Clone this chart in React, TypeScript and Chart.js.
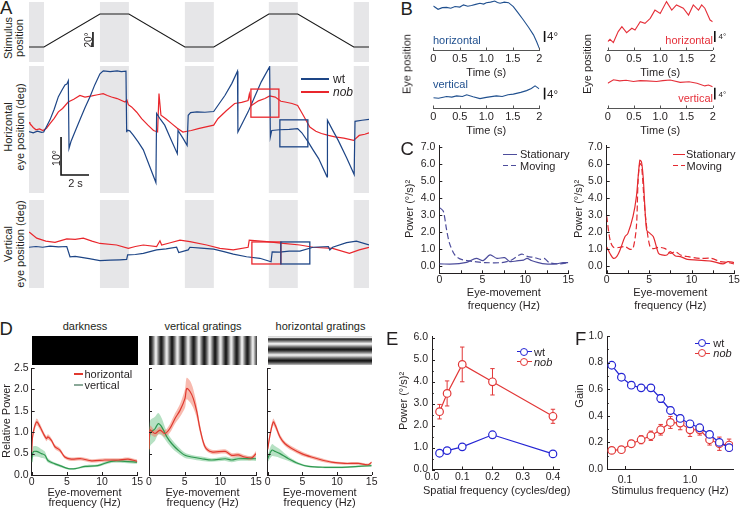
import React, { useEffect, useRef } from "react";
import { Chart, registerables } from "chart.js";

Chart.register(...registerables);

const FONT = 'Arial, "Liberation Sans", Helvetica, sans-serif';
const INK = "#231f20";

/* ================= Panel A data (time in s, position in deg) ================= */
const aTimeRange = [0, 24.3];
const aStimRange = [-20, 60];
const aHorRange = [-16.05, 17.37];
const aVerRange = [-11.32, 11.84];
const aStationaryWindows = [[0, 1.07], [5.07, 7.14], [11.14, 13.21], [17.14, 19.21], [23.21, 24.3]];
const aStimulus = [[0, 0], [1.07, 0], [5.07, 44], [7.14, 44], [11.14, 0], [13.21, 0], [17.14, 44], [19.21, 44], [23.21, 0], [24.3, 0]];
const aWtHorizontal = [
  [0, 0.1], [0.3, -0.2], [0.6, 0.2], [0.9, -0.1], [1.05, 0], [1.3, 1.8], [1.5, 3.2], [1.8, 6.0], [2.1, 9.3], [2.35, 11.0],
  [2.57, 12.4], [2.7, 12.6], [2.81, 13.5], [2.86, -4.3], [3.0, -2.5], [3.3, 0.2], [3.64, 3.2], [4.0, 6.4], [4.36, 9.3],
  [4.7, 12.4], [5.07, 15.3], [5.31, 16.1], [5.8, 15.9], [6.3, 16.1], [6.6, 15.9], [6.93, 16.0], [6.98, 0.1], [7.0, 0.5],
  [7.2, 0.3], [7.45, -0.8], [7.8, -2.6], [8.17, -4.7], [8.6, -8.8], [9.07, -13.3], [9.12, 4.9], [9.4, 3.3], [9.7, 1.8],
  [10.1, -1.6], [10.6, -5.7], [10.65, 0.4], [11.0, -1.6], [11.3, -3.5], [11.38, 4.4], [11.55, 5.1], [12.0, 5.3],
  [12.57, 5.2], [13.2, 5.4], [13.6, 7.5], [14.0, 9.6], [14.5, 12.8], [14.9, 16.0], [14.93, 0], [15.3, 2.7], [15.66, 5.3],
  [16.1, 9.0], [16.6, 13.2], [17.2, 17.2], [17.25, -1.3], [17.35, 0.4], [17.9, 0.6], [18.6, 0.7], [19.2, 0.9], [19.5, -0.2],
  [19.95, -2.6], [20.3, -4.7], [20.7, -7.0], [21.3, -11.8], [21.33, 3.1], [21.7, 0.5], [22.1, -2.2], [22.7, -6.8],
  [23.24, -11.2], [23.3, 2.8], [23.8, 3.1], [24.3, 3.3],
];
const aNobHorizontal = [
  [0, 2.6], [0.07, 2.2], [0.3, 1.2], [0.5, 0.6], [0.75, 0.8], [1.0, 0.4], [1.25, 1.0], [1.5, 2.2], [1.8, 3.6], [2.1, 5.3],
  [2.4, 6.2], [2.8, 7.9], [3.2, 8.6], [3.64, 9.6], [4.0, 9.2], [4.5, 9.5], [4.9, 9.8], [5.3, 10.1], [5.6, 9.6], [5.9, 9.2],
  [6.3, 8.8], [6.86, 7.9], [7.0, 8.4], [7.1, 7.2], [7.33, 6.6], [7.7, 5.2], [8.05, 3.5], [8.5, 1.8], [8.9, 0.4], [9.19, 0],
  [9.29, 10.1], [9.43, 4.4], [9.8, 3.4], [10.2, 2.2], [10.6, 1.0], [11.0, 0], [11.3, 0.2], [11.6, 0.4], [12.1, 0.9],
  [12.57, 1.3], [13.2, 1.8], [13.5, 3.5], [14.1, 5.6], [14.7, 7.5], [15.2, 7.8], [15.66, 8.3], [15.75, 10.0], [15.9, 7.0],
  [16.4, 8.2], [16.86, 8.8], [17.2, 9.5], [17.6, 9.2], [18.0, 8.1], [18.3, 7.9], [18.8, 7.5], [19.2, 7.0], [19.6, 4.4],
  [20.07, 1.3], [20.5, 0.2], [20.9, -0.4], [21.4, -0.9], [21.86, -1.3], [22.5, -1.6], [23.2, -2.2], [23.6, -0.9],
  [24.0, -0.6], [24.3, -0.2],
];
const aWtVertical = [
  [0, -0.6], [0.5, -0.4], [0.98, -0.6], [1.5, -0.3], [2.1, -0.5], [2.7, -0.4], [2.93, -3.1], [3.3, -3.0], [3.64, -3.2],
  [4.3, -3.6], [5.07, -4.1], [5.8, -4.0], [6.5, -3.9], [6.98, -3.8], [7.05, -2.6], [7.6, -2.5], [8.17, -2.2], [9.12, -1.3],
  [9.8, -1.0], [10.55, -0.6], [10.7, -2.0], [11.38, -1.3], [11.5, -0.6], [12.3, -0.8], [13.2, -1.1], [14.0, -1.8],
  [14.6, -2.4], [15.55, -3.1], [16.5, -3.5], [17.3, -4.4], [17.38, -1.8], [17.9, -1.9], [18.6, -1.6], [19.36, -1.6],
  [20.3, -0.6], [21.4, -0.4], [21.5, -1.3], [21.7, -0.6], [22.7, 0.6], [23.4, 1.0], [24.3, 0],
];
const aNobVertical = [
  [0, 3.4], [0.12, 3.1], [0.55, 1.8], [1.2, 1.0], [1.86, 0.7], [2.7, 1.6], [3.3, 1.5], [3.88, 1.8], [4.5, 1.0], [5.07, 0.4],
  [6.26, 0], [7.1, -0.9], [7.6, -0.4], [8.17, 0], [9.12, -0.4], [9.36, 1.1], [9.48, 0], [10.1, 0.6], [10.79, 1.3],
  [11.5, 0.9], [12.7, 0], [13.64, -0.9], [14.6, -1.3], [15.66, -0.6], [15.74, 1.3], [17.0, 0.9], [18.17, 0.4],
  [19.36, 0], [20.3, -0.6], [21.7, -0.9], [22.9, -2.2], [23.6, -1.3], [24.3, -0.6],
];
const aHorizontalBoxes = [[15.86, 17.86, 3.9, 11.3], [17.93, 19.93, -3.9, 3.2]];
const aVerticalBoxes = [[15.93, 18.0, -5, 0.8], [18.0, 20.07, -5, 0.8]];
const aStimScaleBar = [4.57, 0, 20];
const aEyeScaleBar = [2.29, -11.3, 10, 2];

/* ================= Panel B data ================= */
const bTimeTicks = [0, 0.5, 1, 1.5, 2];
const bTimeLabels = ["0", "0.5", "1.0", "1.5", "2"];
const bTopRange = [0, 18.18];
const bBottomRange = [0, 10.18];
const bWtHorizontal = [
  [0, 16], [0.09, 14.8], [0.17, 15.4], [0.25, 15.5], [0.33, 15.2], [0.41, 15.8], [0.5, 15.6], [0.57, 16.4], [0.65, 15.9],
  [0.72, 16.2], [0.8, 16.6], [0.88, 17.0], [0.95, 16.7], [1.0, 17.2], [1.08, 17.4], [1.16, 17.8], [1.21, 17.3], [1.26, 17.0],
  [1.34, 17.4], [1.42, 17.2], [1.51, 15.8], [1.6, 13.5], [1.7, 10.9], [1.8, 8.2], [1.89, 5.5], [1.95, 3.0], [2.0, 0.6],
];
const bWtVertical = [
  [0, 3.5], [0.1, 3.3], [0.25, 3.9], [0.35, 3.7], [0.44, 4.1], [0.55, 3.9], [0.63, 4.5], [0.75, 3.8], [0.88, 3.2], [1.0, 3.6],
  [1.19, 4.1], [1.3, 3.9], [1.41, 4.5], [1.51, 4.7], [1.65, 5.3], [1.76, 5.9], [1.85, 6.6], [1.92, 7.5], [2.0, 6.5],
];
const bNobHorizontal = [
  [0, 3.0], [0.044, 3.9], [0.108, 2.7], [0.2, 6.7], [0.27, 8.5], [0.36, 6.3], [0.46, 7.9], [0.52, 7.3], [0.62, 10.3],
  [0.71, 9.7], [0.81, 11.5], [0.9, 14.5], [1.0, 13.3], [1.12, 17.6], [1.22, 14.5], [1.31, 16.4], [1.44, 15.2], [1.54, 12.7],
  [1.63, 16.4], [1.73, 14.5], [1.79, 16.4], [1.85, 15.2], [1.95, 10.9], [2.0, 10.3],
];
const bNobVertical = [
  [0, 8.4], [0.11, 9.6], [0.23, 9.2], [0.35, 9.4], [0.49, 9.0], [0.62, 9.3], [0.74, 9.2], [0.93, 9.0], [1.05, 9.3],
  [1.19, 9.5], [1.38, 8.7], [1.55, 8.9], [1.7, 8.4], [1.85, 7.5], [1.92, 7.8], [2.0, 7.2],
];
const bScaleBarLeft = [2.1, 2.9, 4];
const bScaleBarRight = [2.04, 2.9, 4];

/* ================= Panel C data ================= */
const cPowerRange = [-0.45, 7.1];
const cPowerTicks = [0, 1, 2, 3, 4, 5, 6, 7];
const cPowerLabels = ["0.0", "1.0", "2.0", "3.0", "4.0", "5.0", "6.0", "7.0"];
const cFreqTicks = [0, 2.5, 5, 7.5, 10, 12.5, 15];
const cFreqLabels = ["0", "", "5", "", "10", "", "15"];
const cWtStationary = [
  [0, 0.1], [1.8, 0.1], [3.0, 0.18], [3.4, 0.24], [4.3, 0.43], [5.1, 0.3], [5.9, 0.63], [6.7, 0.43], [7.6, 0.47], [8.2, 0.24],
  [9.0, 0.28], [9.8, 0.33], [10.2, 0.43], [10.7, 0.3], [11.5, 0.18], [12.3, 0.1], [13.5, 0.1], [14.4, 0.18], [15, 0.18],
];
const cWtMoving = [
  [0.08, 3.4], [0.47, 3.2], [0.85, 2.1], [1.2, 1.3], [1.8, 0.63], [2.4, 0.4], [3.2, 0.3], [4.1, 0.24], [5.3, 0.18], [7.2, 0.18],
  [8.4, 0.33], [9.3, 0.63], [9.7, 0.67], [10.3, 0.53], [11, 0.49], [11.8, 0.37], [12.2, 0.43], [12.8, 0.18], [14, 0.1], [15, 0.18],
];
const cNobStationary = [
  [0, 1.1], [0.4, 0.7], [0.8, 0.43], [1.2, 0.55], [1.57, 0.92], [2.15, 1.7], [2.5, 1.9], [3.1, 2.9], [3.5, 4.06], [3.9, 6.2],
  [4.1, 6.1], [4.3, 5.2], [4.7, 2.1], [5.1, 1.9], [5.5, 1.7], [6.1, 0.73], [6.5, 0.63], [7.1, 0.63], [7.5, 0.82], [8.1, 0.57],
  [8.7, 0.53], [9.5, 0.37], [10.7, 0.33], [12.3, 0.27], [13.7, 0.1], [14.3, 0.24], [15, 0.18],
];
const cNobMoving = [
  [0, 2.9], [0.4, 1.5], [0.8, 1.08], [1.57, 1.08], [2.15, 1.12], [2.75, 0.96], [3.1, 1.0], [3.5, 2.3], [3.7, 5.0], [3.9, 6.0],
  [4.1, 5.9], [4.4, 3.9], [4.7, 2.3], [5.1, 1.12], [5.5, 1.0], [6.1, 1.08], [6.9, 1.0], [7.5, 0.73], [8.1, 0.82], [8.7, 0.63],
  [9.6, 0.53], [11, 0.43], [12.3, 0.43], [13.4, 0.24], [14.3, 0.18], [15, 0.1],
];

/* ================= Panel D data: [Hz, mean, sem] ================= */
const dPowerTicks = [0, 0.5, 1, 1.5, 2, 2.5];
const dPowerLabels = ["0.0", "0.5", "1.0", "1.5", "2.0", "2.5"];
const dFreqTicks = [0, 5, 10, 15];
const dFreqLabels = ["0", "5", "10", "15"];
const dDarkHorizontal = [
  [0, 0.54, 0.05], [0.16, 0.93, 0.08], [0.7, 1.24, 0.08], [1.2, 1.12, 0.07], [1.65, 0.97, 0.06], [2.1, 0.85, 0.06],
  [2.3, 0.89, 0.06], [2.8, 0.81, 0.05], [3.3, 0.66, 0.05], [4.0, 0.58, 0.05], [4.7, 0.42, 0.04], [5.6, 0.37, 0.04],
  [7.0, 0.38, 0.04], [8.5, 0.33, 0.04], [10.4, 0.35, 0.04], [12.3, 0.35, 0.04], [13.7, 0.37, 0.04], [15, 0.32, 0.04],
];
const dDarkVertical = [
  [0, 0.3, 0.06], [0.2, 0.54, 0.12], [0.7, 0.55, 0.12], [1.4, 0.5, 0.1], [1.9, 0.46, 0.08], [2.3, 0.34, 0.05], [3.3, 0.26, 0.03],
  [4.3, 0.2, 0.03], [5.2, 0.15, 0.02], [6.2, 0.15, 0.02], [7.6, 0.2, 0.03], [9.4, 0.22, 0.03], [11.3, 0.32, 0.04],
  [13.2, 0.32, 0.04], [15, 0.3, 0.04],
];
const dVertGratHorizontal = [
  [0, 0.6, 0.1], [0.14, 1.05, 0.1], [0.84, 0.97, 0.08], [1.54, 1.05, 0.08], [2.24, 0.97, 0.08], [2.9, 1.08, 0.1],
  [3.65, 1.32, 0.12], [4.35, 1.51, 0.15], [5.05, 1.79, 0.22], [5.28, 2.02, 0.25], [5.75, 1.95, 0.25], [6.2, 1.79, 0.22],
  [6.7, 1.48, 0.15], [7.15, 1.08, 0.1], [7.85, 0.66, 0.06], [8.8, 0.54, 0.05], [10.7, 0.55, 0.05], [11.6, 0.46, 0.05],
  [12.5, 0.47, 0.05], [13.4, 0.42, 0.05], [14.4, 0.4, 0.05], [15, 0.5, 0.06],
];
const dVertGratVertical = [
  [0, 0.6, 0.2], [0.14, 0.97, 0.3], [0.84, 1.08, 0.28], [1.3, 1.2, 0.25], [1.8, 1.12, 0.2], [2.5, 0.89, 0.12], [3.2, 0.73, 0.1],
  [4.1, 0.58, 0.08], [5.05, 0.46, 0.06], [6.0, 0.42, 0.05], [7.4, 0.38, 0.05], [8.8, 0.35, 0.04], [10.7, 0.38, 0.05],
  [11.6, 0.35, 0.05], [12.5, 0.38, 0.05], [15, 0.38, 0.05],
];
const dHorGratHorizontal = [
  [0, 0.6, 0.06], [0.33, 0.93, 0.08], [0.8, 1.24, 0.08], [1.1, 1.16, 0.08], [1.77, 0.89, 0.06], [2.5, 0.73, 0.05],
  [3.46, 0.62, 0.05], [4.9, 0.5, 0.05], [6.3, 0.42, 0.04], [7.8, 0.35, 0.04], [9.2, 0.3, 0.03], [11.1, 0.27, 0.03],
  [13.1, 0.27, 0.03], [14.5, 0.24, 0.03], [15, 0.3, 0.03],
];
const dHorGratVertical = [
  [0, 0.38, 0.08], [0.6, 0.58, 0.14], [1.1, 0.55, 0.12], [1.77, 0.5, 0.1], [3.0, 0.38, 0.05], [4.4, 0.27, 0.03],
  [5.9, 0.2, 0.02], [8.3, 0.18, 0.02], [10.7, 0.18, 0.02], [13.1, 0.2, 0.02], [15, 0.22, 0.03],
];

/* ================= Panel E data ================= */
const eSpatialFreq = [0.025, 0.05, 0.1, 0.2, 0.4];
const eWtPower = [0.74, 0.86, 1.03, 1.58, 0.71];
const eWtSem = [0.04, 0.04, 0.05, 0.06, 0.04];
const eNobPower = [2.63, 3.46, 4.78, 3.99, 2.42];
const eNobSem = [0.33, 0.57, 0.79, 0.6, 0.32];
const ePowerTicks = [0, 0.5, 1, 1.5, 2, 2.5, 3, 3.5, 4, 4.5, 5, 5.5, 6];
const ePowerLabels = ["0.0", "", "1.0", "", "2.0", "", "3.0", "", "4.0", "", "5.0", "", "6.0"];
const eFreqTicks = [0, 0.1, 0.2, 0.3, 0.4];
const eFreqLabels = ["0.0", "0.1", "0.2", "0.3", "0.4"];

/* ================= Panel F data ================= */
const fStimFreq = [0.0625, 0.088, 0.125, 0.177, 0.25, 0.354, 0.5, 0.707, 1.0, 1.41, 2.0, 2.83, 4.0];
const fWtGain = [0.78, 0.69, 0.63, 0.61, 0.61, 0.53, 0.44, 0.38, 0.34, 0.31, 0.26, 0.2, 0.16];
const fWtSem = [0.015, 0.02, 0.025, 0.02, 0.025, 0.03, 0.025, 0.025, 0.025, 0.02, 0.02, 0.02, 0.02];
const fNobGain = [0.14, 0.145, 0.19, 0.22, 0.25, 0.295, 0.35, 0.345, 0.295, 0.295, 0.22, 0.19, 0.18];
const fNobSem = [0.02, 0.015, 0.025, 0.03, 0.035, 0.04, 0.045, 0.05, 0.05, 0.04, 0.04, 0.05, 0.045];
const fGainTicks = [0, 0.1, 0.2, 0.3, 0.4, 0.5, 0.6, 0.7, 0.8, 0.9, 1.0];
const fGainLabels = ["0.0", "", "0.2", "", "0.4", "", "0.6", "", "0.8", "", "1.0"];
const fFreqTicks = [0.1, 1];
const fFreqLabels = ["0.1", "1.0"];
const fFreqRange = [0.0528, 4.59];

/* ================= colours ================= */
const WT_A = "#1d4586";
const NOB_A = "#e9262c";
const WT_B = "#20508f";
const NOB_B = "#e5303a";
const WT_C = "#4d4d9c";
const NOB_C = "#e42a30";
const D_RED = "#e0392f";
const D_RED_BAND = "rgba(242,130,110,0.55)";
const D_GREEN = "#2f9950";
const D_GREEN_BAND = "rgba(110,195,135,0.5)";
const WT_E = "#2525d4";
const NOB_E = "#e23838";
const GRAY_BAND = "#e6e6e8";

/* ================= helpers ================= */
const xy = (pts: number[][]) => pts.map((p) => ({ x: p[0], y: p[1] }));

function line(pts: number[][], color: string, extra: any = {}) {
  return { data: xy(pts), borderColor: color, borderWidth: 1.2, pointRadius: 0, fill: false, tension: 0, ...extra };
}

function band(pts: number[][], color: string) {
  return [
    { data: pts.map((p) => ({ x: p[0], y: p[1] + p[2] })), borderColor: "transparent", borderWidth: 0, pointRadius: 0, fill: "+1", backgroundColor: color, tension: 0.3 },
    { data: pts.map((p) => ({ x: p[0], y: p[1] - p[2] })), borderColor: "transparent", borderWidth: 0, pointRadius: 0, fill: false, tension: 0.3 },
  ];
}

function markers(xs: number[], ys: number[], color: string) {
  return {
    data: xs.map((x, i) => ({ x, y: ys[i] })),
    borderColor: color, borderWidth: 1.2, pointRadius: 3.8, pointBorderWidth: 1.2,
    pointBackgroundColor: "#fff", pointBorderColor: color, fill: false, tension: 0,
  };
}

function axis(range: number[], ticks: number[] | null, labels: string[] | null, show: boolean, extra: any = {}) {
  const { ticks: tickExtra = {}, ...rest } = extra;
  const { font: tickFont = {}, ...tickOther } = tickExtra;
  const a: any = {
    type: "linear", min: range[0], max: range[1], display: show,
    grid: { display: false, drawTicks: false },
    border: { display: true, color: INK, width: 1 },
    ...rest,
    ticks: {
      padding: 3, autoSkip: false, maxRotation: 0, minRotation: 0, color: INK,
      ...tickOther,
      font: { family: FONT, size: 10.5, ...tickFont },
      callback: (_v: any, i: number) => (labels ? labels[i] ?? "" : ""),
    },
  };
  if (ticks) a.afterBuildTicks = (s: any) => { s.ticks = ticks.map((v) => ({ value: v })); };
  return a;
}

function extras(o: any) {
  return {
    id: "extras",
    beforeDatasetsDraw(chart: any) {
      const { ctx, chartArea: ca, scales } = chart;
      const x = scales.x, y = scales.y;
      if (o.bands) {
        ctx.save();
        ctx.fillStyle = GRAY_BAND;
        for (const [a, b] of o.bands) {
          const p0 = x.getPixelForValue(a), p1 = x.getPixelForValue(b);
          ctx.fillRect(p0, ca.top, p1 - p0, ca.bottom - ca.top);
        }
        ctx.restore();
      }
      if (o.err) {
        ctx.save();
        ctx.lineWidth = 1;
        for (const set of o.err) {
          ctx.strokeStyle = set.color;
          set.xs.forEach((vx: number, i: number) => {
            const px = x.getPixelForValue(vx);
            const pt = y.getPixelForValue(set.ys[i] + set.es[i]);
            const pb = y.getPixelForValue(set.ys[i] - set.es[i]);
            ctx.beginPath();
            ctx.moveTo(px, pt); ctx.lineTo(px, pb);
            ctx.moveTo(px - 2.2, pt); ctx.lineTo(px + 2.2, pt);
            ctx.moveTo(px - 2.2, pb); ctx.lineTo(px + 2.2, pb);
            ctx.stroke();
          });
        }
        ctx.restore();
      }
    },
    afterDatasetsDraw(chart: any) {
      const { ctx, scales } = chart;
      const x = scales.x, y = scales.y;
      if (o.boxes) {
        ctx.save();
        ctx.lineWidth = 1.3;
        o.boxes.forEach((b: number[], i: number) => {
          ctx.strokeStyle = o.boxColors[i];
          const x0 = x.getPixelForValue(b[0]), x1 = x.getPixelForValue(b[1]);
          const y0 = y.getPixelForValue(b[2]), y1 = y.getPixelForValue(b[3]);
          ctx.strokeRect(x0, y1, x1 - x0, y0 - y1);
        });
        ctx.restore();
      }
      if (o.bars) {
        ctx.save();
        ctx.strokeStyle = "#111";
        ctx.lineWidth = 1.6;
        ctx.lineCap = "butt";
        for (const seg of o.bars) {
          ctx.beginPath();
          ctx.moveTo(x.getPixelForValue(seg[0][0]), y.getPixelForValue(seg[0][1]));
          for (let k = 1; k < seg.length; k++) ctx.lineTo(x.getPixelForValue(seg[k][0]), y.getPixelForValue(seg[k][1]));
          ctx.stroke();
        }
        ctx.restore();
      }
    },
    afterDraw(chart: any) {
      if (!o.ticks) return;
      const { ctx, chartArea: ca, scales } = chart;
      const len = o.ticks.len ?? 3;
      ctx.save();
      ctx.strokeStyle = o.ticks.color || INK;
      ctx.lineWidth = 1;
      const xs = scales.x, ys = scales.y;
      if (o.ticks.x && xs) {
        const dir = o.ticks.x === "in" ? -1 : 1;
        xs.ticks.forEach((t: any) => {
          const p = Math.round(xs.getPixelForValue(t.value)) + 0.5;
          ctx.beginPath(); ctx.moveTo(p, ca.bottom); ctx.lineTo(p, ca.bottom + dir * len); ctx.stroke();
        });
      }
      if (o.ticks.y && ys) {
        const dir = o.ticks.y === "in" ? 1 : -1;
        ys.ticks.forEach((t: any, i: number) => {
          const p = Math.round(ys.getPixelForValue(t.value)) + 0.5;
          const l = o.ticks.minor && o.ticks.minor[i] ? len * 0.6 : len;
          ctx.beginPath(); ctx.moveTo(ca.left, p); ctx.lineTo(ca.left + dir * l, p); ctx.stroke();
        });
      }
      ctx.restore();
    },
  };
}

function build(p: any, o: any) {
  const xShow = o.x.display !== false;
  const yShow = o.y.display !== false;
  const x = { ...o.x };
  const y = { ...o.y };
  if (xShow) x.afterFit = (s: any) => { s.height = p.b; };
  if (yShow) y.afterFit = (s: any) => { s.width = p.l; };
  return {
    type: "line",
    data: { datasets: o.datasets },
    options: {
      responsive: false, animation: false, events: [], devicePixelRatio: 1,
      layout: { padding: { left: yShow ? 0 : p.l, top: p.t, right: p.r, bottom: xShow ? 0 : p.b } },
      plugins: { legend: { display: false }, tooltip: { enabled: false }, title: { display: false } },
      scales: { x, y },
    },
    plugins: [extras(o.extras || {})],
  };
}

type Area = { l: number; t: number; r: number; b: number };

function ChartBox({ area, pad, make }: { area: Area; pad: Area; make: (p: Area) => any }) {
  const ref = useRef<HTMLCanvasElement>(null);
  const cl = Math.floor(area.l - pad.l);
  const ct = Math.floor(area.t - pad.t);
  const cr = Math.ceil(area.r + pad.r);
  const cb = Math.ceil(area.b + pad.b);
  const p = { l: area.l - cl, t: area.t - ct, r: cr - area.r, b: cb - area.b };
  const w = cr - cl;
  const h = cb - ct;
  useEffect(() => {
    const chart = new Chart(ref.current as HTMLCanvasElement, make(p));
    return () => chart.destroy();
  }, []);
  return <canvas ref={ref} width={w} height={h} style={{ position: "absolute", left: cl, top: ct, width: w, height: h }} />;
}

function Txt(props: { x: number; y: number; children: any; size?: number; anchor?: string; rot?: boolean; italic?: boolean; color?: string }) {
  const { x, y, children, size = 11, anchor = "middle", rot = false, italic = false, color = INK } = props;
  const tx = anchor === "middle" ? "-50%" : anchor === "end" ? "-100%" : "0";
  return (
    <div
      style={{
        position: "absolute", left: x, top: y,
        transform: `translate(${tx}, -50%)` + (rot ? " rotate(-90deg)" : ""),
        fontSize: size, lineHeight: 1, whiteSpace: "nowrap",
        fontStyle: italic ? "italic" : "normal", color, fontFamily: FONT,
      }}
    >
      {children}
    </div>
  );
}

function HLine({ x0, x1, y, color, w = 1.2, dash = false }: any) {
  return (
    <div
      style={{
        position: "absolute", left: x0, top: y - w / 2, width: x1 - x0, height: w,
        background: dash ? `repeating-linear-gradient(90deg, ${color} 0 5px, transparent 5px 8px)` : color,
      }}
    />
  );
}

function Dot({ x, y, color }: any) {
  return (
    <div
      style={{
        position: "absolute", left: x - 4, top: y - 4, width: 8, height: 8, boxSizing: "border-box",
        border: `1.2px solid ${color}`, borderRadius: "50%", background: "#fff",
      }}
    />
  );
}

/* ================= chart configs ================= */
const aX = axis(aTimeRange, null, null, false);

const makeStim = (p: Area) =>
  build(p, {
    x: aX, y: axis(aStimRange, null, null, false),
    datasets: [line(aStimulus, "#1a1a1a", { borderWidth: 1.1 })],
    extras: { bands: aStationaryWindows, bars: [[[aStimScaleBar[0], aStimScaleBar[1]], [aStimScaleBar[0], aStimScaleBar[2]]]] },
  });

const makeAHor = (p: Area) =>
  build(p, {
    x: aX, y: axis(aHorRange, null, null, false),
    datasets: [line(aWtHorizontal, WT_A), line(aNobHorizontal, NOB_A)],
    extras: {
      bands: aStationaryWindows,
      boxes: aHorizontalBoxes, boxColors: [NOB_A, WT_A],
      bars: [[
        [aEyeScaleBar[0], aEyeScaleBar[1] + aEyeScaleBar[2]],
        [aEyeScaleBar[0], aEyeScaleBar[1]],
        [aEyeScaleBar[0] + aEyeScaleBar[3], aEyeScaleBar[1]],
      ]],
    },
  });

const makeAVer = (p: Area) =>
  build(p, {
    x: aX, y: axis(aVerRange, null, null, false),
    datasets: [line(aWtVertical, WT_A), line(aNobVertical, NOB_A)],
    extras: { bands: aStationaryWindows, boxes: aVerticalBoxes, boxColors: [NOB_A, WT_A] },
  });

const bX = () =>
  axis([0, 2], bTimeTicks, bTimeLabels, true, { border: { display: true, color: "#555", width: 1 }, ticks: { padding: 2, font: { size: 11 } } });

const makeB = (pts: number[][], range: number[], color: string, bar: number[]) => (p: Area) =>
  build(p, {
    x: bX(), y: axis(range, null, null, false),
    datasets: [line(pts, color, { borderWidth: 1.1 })],
    extras: { bars: [[[bar[0], bar[1]], [bar[0], bar[1] + bar[2]]]], ticks: { x: "in", len: 2.5, color: "#555" } },
  });

const makeC = (stat: number[][], mov: number[][], color: string) => (p: Area) =>
  build(p, {
    x: axis([0, 15], cFreqTicks, cFreqLabels, true, { ticks: { padding: 1 } }),
    y: axis(cPowerRange, cPowerTicks, cPowerLabels, true, { ticks: { padding: 4 } }),
    datasets: [line(stat, color, { tension: 0.3 }), line(mov, color, { tension: 0.3, borderDash: [6, 3] })],
    extras: { ticks: { x: "in", y: "in", len: 3 } },
  });

const makeD = (hor: number[][], ver: number[][], yLabels: boolean) => (p: Area) =>
  build(p, {
    x: axis([0, 15], dFreqTicks, dFreqLabels, true, { ticks: { padding: 1 } }),
    y: axis([0, 2.5], dPowerTicks, yLabels ? dPowerLabels : null, true, { ticks: { padding: 3 } }),
    datasets: [
      line(hor, D_RED, { tension: 0.3 }),
      line(ver, D_GREEN, { tension: 0.3 }),
      ...band(hor, D_RED_BAND),
      ...band(ver, D_GREEN_BAND),
    ],
    extras: { ticks: { x: "in", y: "in", len: 3 } },
  });

const makeE = (p: Area) =>
  build(p, {
    x: axis([0, 0.42], eFreqTicks, eFreqLabels, true, { ticks: { padding: 1 } }),
    y: axis([0, 6.05], ePowerTicks, ePowerLabels, true, { ticks: { padding: 4 } }),
    datasets: [markers(eSpatialFreq, eWtPower, WT_E), markers(eSpatialFreq, eNobPower, NOB_E)],
    extras: {
      err: [
        { xs: eSpatialFreq, ys: eWtPower, es: eWtSem, color: WT_E },
        { xs: eSpatialFreq, ys: eNobPower, es: eNobSem, color: NOB_E },
      ],
      ticks: { x: "in", y: "in", len: 3, minor: ePowerLabels.map((l) => l === "") },
    },
  });

const makeF = (p: Area) =>
  build(p, {
    x: axis(fFreqRange, fFreqTicks, fFreqLabels, true, { type: "logarithmic", ticks: { padding: 5 } }),
    y: axis([0, 1.0], fGainTicks, fGainLabels, true, { ticks: { padding: 4 } }),
    datasets: [markers(fStimFreq, fWtGain, WT_E), markers(fStimFreq, fNobGain, NOB_E)],
    extras: {
      err: [
        { xs: fStimFreq, ys: fWtGain, es: fWtSem, color: WT_E },
        { xs: fStimFreq, ys: fNobGain, es: fNobSem, color: NOB_E },
      ],
      ticks: { x: "in", y: "in", len: 3, minor: fGainLabels.map((l) => l === "") },
    },
  });

/* ================= App ================= */
export default function App() {
  useEffect(() => {
    document.body.style.margin = "0";
  }, []);

  const zero = { l: 0, t: 0, r: 0, b: 0 };
  const grating = "#0c0c0c 0px, #6a6a6a 2.4px, #ffffff 5.4px, #6a6a6a 8.4px, #0c0c0c 10.77px";
  const hgrating = "#0c0c0c 0px, #6a6a6a 2.5px, #ffffff 5.6px, #6a6a6a 8.7px, #0c0c0c 11.2px";

  return (
    <div style={{ position: "absolute", left: 0, top: 0, width: 740, height: 509, overflow: "hidden", background: "#fff", fontFamily: FONT, color: INK }}>
      {/* ---------- A ---------- */}
      <ChartBox area={{ l: 29, t: 2, r: 369, b: 62 }} pad={zero} make={makeStim} />
      <ChartBox area={{ l: 29, t: 66, r: 369, b: 193 }} pad={zero} make={makeAHor} />
      <ChartBox area={{ l: 29, t: 200, r: 369, b: 288 }} pad={zero} make={makeAVer} />
      <Txt x={0} y={7.5} size={18.5} anchor="start">A</Txt>
      <Txt x={7.5} y={38} rot>Stimulus</Txt>
      <Txt x={18.5} y={38} rot>position</Txt>
      <Txt x={7.5} y={127} rot>Horizontal</Txt>
      <Txt x={19.5} y={127} rot>eye position (deg)</Txt>
      <Txt x={7.5} y={244} rot>Vertical</Txt>
      <Txt x={19.5} y={244} rot>eye position (deg)</Txt>
      <Txt x={88.5} y={40} size={10} rot>20°</Txt>
      <Txt x={55.5} y={158} size={10.5} rot>10°</Txt>
      <Txt x={75.5} y={182.5} size={11}>2 s</Txt>
      <HLine x0={301} x1={329} y={79} color={WT_A} w={2} />
      <HLine x0={301} x1={329} y={92} color={NOB_A} w={2} />
      <Txt x={333} y={78.5} size={12} anchor="start">wt</Txt>
      <Txt x={333} y={91.5} size={12} anchor="start" italic>nob</Txt>

      {/* ---------- B ---------- */}
      <ChartBox area={{ l: 433.3, t: 0, r: 539.3, b: 50 }} pad={{ l: 6, t: 0, r: 12, b: 16 }} make={makeB(bWtHorizontal, bTopRange, WT_B, bScaleBarLeft)} />
      <ChartBox area={{ l: 433.3, t: 78, r: 539.3, b: 108 }} pad={{ l: 6, t: 0, r: 12, b: 16 }} make={makeB(bWtVertical, bBottomRange, WT_B, bScaleBarLeft)} />
      <ChartBox area={{ l: 607.7, t: 0, r: 712.7, b: 50 }} pad={{ l: 6, t: 0, r: 8, b: 16 }} make={makeB(bNobHorizontal, bTopRange, NOB_B, bScaleBarRight)} />
      <ChartBox area={{ l: 607.7, t: 78, r: 712.7, b: 108 }} pad={{ l: 6, t: 0, r: 8, b: 16 }} make={makeB(bNobVertical, bBottomRange, NOB_B, bScaleBarRight)} />
      <Txt x={400.5} y={8.5} size={18.5} anchor="start">B</Txt>
      <Txt x={406.5} y={64} rot>Eye position</Txt>
      <Txt x={586.5} y={64} rot>Eye position</Txt>
      <Txt x={433} y={40} anchor="start" color={WT_B}>horizontal</Txt>
      <Txt x={433} y={84} anchor="start" color={WT_B}>vertical</Txt>
      <Txt x={713} y={40} anchor="end" color={NOB_B}>horizontal</Txt>
      <Txt x={713} y={98} anchor="end" color={NOB_B}>vertical</Txt>
      <Txt x={486.3} y={71.5}>Time (s)</Txt>
      <Txt x={660.2} y={71.5}>Time (s)</Txt>
      <Txt x={486.3} y={129.5}>Time (s)</Txt>
      <Txt x={660.2} y={129.5}>Time (s)</Txt>
      <Txt x={547} y={36.5} size={11.5} anchor="start">4°</Txt>
      <Txt x={547} y={95} size={11.5} anchor="start">4°</Txt>
      <Txt x={718.5} y={36.5} size={8} anchor="start">4°</Txt>
      <Txt x={718.5} y={95} size={8} anchor="start">4°</Txt>

      {/* ---------- C ---------- */}
      <ChartBox area={{ l: 439.3, t: 145, r: 568.3, b: 273.3 }} pad={{ l: 34, t: 12, r: 10, b: 18 }} make={makeC(cWtStationary, cWtMoving, WT_C)} />
      <ChartBox area={{ l: 606.7, t: 145, r: 734, b: 273.3 }} pad={{ l: 34, t: 12, r: 10, b: 18 }} make={makeC(cNobStationary, cNobMoving, NOB_C)} />
      <Txt x={400.5} y={148.5} size={18.5} anchor="start">C</Txt>
      <Txt x={409} y={209} rot>Power (°/s)²</Txt>
      <Txt x={578} y={209} rot>Power (°/s)²</Txt>
      <HLine x0={503.3} x1={517.3} y={154.3} color={WT_C} />
      <HLine x0={503.3} x1={517.3} y={165.7} color={WT_C} dash />
      <Txt x={520} y={154} anchor="start">Stationary</Txt>
      <Txt x={520} y={165.5} anchor="start">Moving</Txt>
      <HLine x0={673.3} x1={685} y={154.3} color={NOB_C} />
      <HLine x0={673.3} x1={685} y={165.7} color={NOB_C} dash />
      <Txt x={686} y={154} anchor="start">Stationary</Txt>
      <Txt x={686.5} y={165.5} anchor="start">Moving</Txt>
      <Txt x={503.8} y={291.7}>Eye-movement</Txt>
      <Txt x={503.8} y={305}>frequency (Hz)</Txt>
      <Txt x={670.3} y={291.7}>Eye-movement</Txt>
      <Txt x={670.3} y={305}>frequency (Hz)</Txt>

      {/* ---------- D ---------- */}
      <Txt x={-0.5} y={328.5} size={18.5} anchor="start">D</Txt>
      <Txt x={85} y={326}>darkness</Txt>
      <Txt x={203} y={326}>vertical gratings</Txt>
      <Txt x={320.5} y={326}>horizontal gratings</Txt>
      <div style={{ position: "absolute", left: 32, top: 336, width: 106, height: 29, background: "#000" }} />
      <div style={{ position: "absolute", left: 149, top: 336, width: 108, height: 29, background: `repeating-linear-gradient(90deg, ${grating})`, backgroundPosition: "1.5px 0" }} />
      <div style={{ position: "absolute", left: 268, top: 336, width: 104, height: 29, background: `repeating-linear-gradient(180deg, ${hgrating})`, backgroundPosition: "0 2.3px" }} />
      <ChartBox area={{ l: 31.7, t: 368, r: 137.3, b: 475 }} pad={{ l: 31, t: 10, r: 8, b: 18 }} make={makeD(dDarkHorizontal, dDarkVertical, true)} />
      <ChartBox area={{ l: 149, t: 368, r: 256, b: 475 }} pad={{ l: 6, t: 10, r: 8, b: 18 }} make={makeD(dVertGratHorizontal, dVertGratVertical, false)} />
      <ChartBox area={{ l: 267.7, t: 368, r: 371.7, b: 475 }} pad={{ l: 6, t: 10, r: 8, b: 18 }} make={makeD(dHorGratHorizontal, dHorGratVertical, false)} />
      <Txt x={5.5} y={421} rot>Relative Power</Txt>
      <HLine x0={74} x1={83.3} y={374} color={D_RED} />
      <HLine x0={74} x1={83.3} y={385} color="#8aa898" />
      <Txt x={84.5} y={374} anchor="start">horizontal</Txt>
      <Txt x={84.5} y={385} anchor="start">vertical</Txt>
      <Txt x={84.5} y={491.7}>Eye-movement</Txt>
      <Txt x={84.5} y={502.3}>frequency (Hz)</Txt>
      <Txt x={202.5} y={491.7}>Eye-movement</Txt>
      <Txt x={202.5} y={502.3}>frequency (Hz)</Txt>
      <Txt x={319.7} y={491.7}>Eye-movement</Txt>
      <Txt x={319.7} y={502.3}>frequency (Hz)</Txt>

      {/* ---------- E ---------- */}
      <ChartBox area={{ l: 432, t: 336.5, r: 559, b: 469.5 }} pad={{ l: 32, t: 12, r: 10, b: 18 }} make={makeE} />
      <Txt x={386} y={338.5} size={18.5} anchor="start">E</Txt>
      <Txt x={403} y={401} rot>Power (°/s)²</Txt>
      <HLine x0={516.7} x1={531.7} y={351.7} color={WT_E} />
      <Dot x={524} y={351.7} color={WT_E} />
      <HLine x0={516.7} x1={531.7} y={361.7} color={NOB_E} />
      <Dot x={524} y={361.7} color={NOB_E} />
      <Txt x={534} y={351.5} anchor="start">wt</Txt>
      <Txt x={534} y={361.5} anchor="start" italic>nob</Txt>
      <Txt x={423} y={490} anchor="start">Spatial frequency (cycles/deg)</Txt>

      {/* ---------- F ---------- */}
      <ChartBox area={{ l: 607, t: 336, r: 733, b: 469 }} pad={{ l: 32, t: 12, r: 10, b: 18 }} make={makeF} />
      <Txt x={575} y={338.5} size={18.5} anchor="start">F</Txt>
      <Txt x={579} y={396} rot>Gain</Txt>
      <HLine x0={695} x1={710} y={343.3} color={WT_E} />
      <Dot x={702.3} y={343.3} color={WT_E} />
      <HLine x0={695} x1={710} y={353.3} color={NOB_E} />
      <Dot x={702.3} y={353.3} color={NOB_E} />
      <Txt x={713.3} y={343} anchor="start">wt</Txt>
      <Txt x={713.3} y={353} anchor="start" italic>nob</Txt>
      <Txt x={670} y={490}>Stimulus frequency (Hz)</Txt>
    </div>
  );
}
